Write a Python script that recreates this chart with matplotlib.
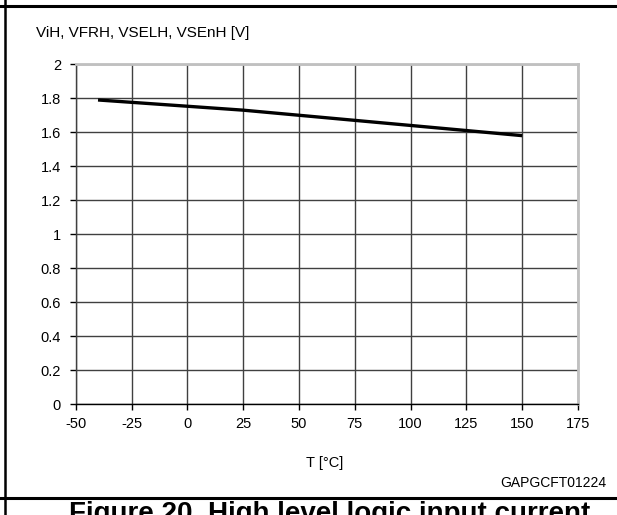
import matplotlib
matplotlib.use("Agg")
import matplotlib.pyplot as plt
from matplotlib.lines import Line2D

plt.rcParams['font.family'] = ['Liberation Sans', 'DejaVu Sans']
plt.rcParams['axes.unicode_minus'] = False

temps = [-40, 25, 125, 150]
volts = [1.79, 1.73, 1.61, 1.58]
xticks = [-50, -25, 0, 25, 50, 75, 100, 125, 150, 175]
yticks = [0, 0.2, 0.4, 0.6, 0.8, 1, 1.2, 1.4, 1.6, 1.8, 2]
ylabels = ['0', '0.2', '0.4', '0.6', '0.8', '1', '1.2', '1.4', '1.6', '1.8', '2']
ylabel_text = "ViH, VFRH, VSELH, VSEnH [V]"
xlabel_text = "T [°C]"
code_text = "GAPGCFT01224"
caption_text = "Figure 20. High level logic input current"

W, H = 617, 515
fig = plt.figure(figsize=(W / 100, H / 100), dpi=100)
ax = fig.add_axes([75.7 / W, 1 - 404 / H, (578 - 75.7) / W, (404 - 64.3) / H])

ax.plot(temps, volts, color='black', lw=2.4, solid_capstyle='butt', zorder=3)
ax.set_xlim(-50, 175)
ax.set_ylim(0, 2)
ax.set_xticks(xticks)
ax.set_xticklabels([str(t) for t in xticks])
ax.set_yticks(yticks)
ax.set_yticklabels(ylabels)
ax.grid(True, color='#404040', lw=1.0)
ax.tick_params(axis='both', direction='out', length=4.5, width=1, labelsize=10.5, colors='black')
ax.tick_params(axis='y', pad=6)
ax.tick_params(axis='x', pad=5)
for s in ['top', 'right']:
    ax.spines[s].set_color('#c0c0c0')
    ax.spines[s].set_linewidth(2)
ax.spines['left'].set_color('#404040')
ax.spines['bottom'].set_color('black')
ax.spines['left'].set_linewidth(1)
ax.spines['bottom'].set_linewidth(1)

fig.text(36 / W, 1 - 33 / H, ylabel_text, fontsize=11, ha='left', va='center')
fig.text(325 / W, 1 - 463 / H, xlabel_text, fontsize=10.5, ha='center', va='center')
fig.text(606 / W, 1 - 483 / H, code_text, fontsize=10, ha='right', va='center')
fig.text(330 / W, 1 - 501 / H, caption_text, fontsize=20, fontweight='bold', ha='center', va='top')

# frame lines
fig.add_artist(Line2D([0, 1], [1 - 5.5 / H, 1 - 5.5 / H], color='black', lw=2.2, transform=fig.transFigure))
fig.add_artist(Line2D([0, 1], [1 - 498 / H, 1 - 498 / H], color='black', lw=2.2, transform=fig.transFigure))
fig.add_artist(Line2D([5 / W, 5 / W], [0, 1], color='black', lw=1.8, transform=fig.transFigure))

fig.savefig('out.png', dpi=100)
